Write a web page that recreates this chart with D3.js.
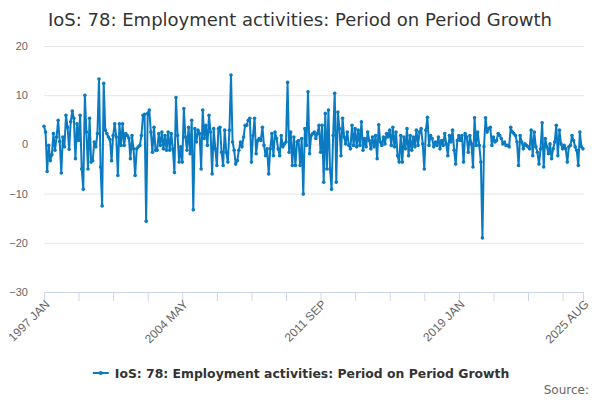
<!DOCTYPE html>
<html>
<head>
<meta charset="utf-8">
<script src="https://cdn.jsdelivr.net/npm/d3@7"></script>
<style>
  body { margin: 0; background: #fff; }
  svg { font-family: "DejaVu Sans", Verdana, sans-serif; }
</style>
</head>
<body>
<svg width="600" height="400"></svg>
<script>
// monthly growth in chunks (1997 JAN .. 2025 AUG)
const growth1997 = [3.7, 2.5, -5.5, -0.2, -3.3, -2.1, 2.2, -1.2, 1.5, 4.9, 0.6, -5.8, 1.5, -0.5, 5.9, 3.5, -1.0, 4.6, 6.8, 5.3, -2.9, 4.2, 0.8, 5.9, -5.0, -9.1, 10.0, 2.5, -5.0, 5.3, -3.6, -3.3, 0.5, -0.5, 2.2, 13.3, -4.6, -12.5, 12.4, 2.9, 2.2, 1.5];
const growth2000 = [1.0, -3.3, 1.8, 4.2, 1.5, -6.3, 4.2, -0.2, 4.2, -0.2, 2.2, 1.8, 1.3, -2.9, 1.8, -0.9, -6.3, -0.9, -0.5, -0.2, 1.8, 5.9, 6.1, -15.6, 6.3, 7.0, 2.5, -1.6, 3.5, -1.2, -1.2, 2.2, -0.2, 2.5, -0.9, 1.8, -1.2, 2.5, -1.2, 2.2, -0.9, -5.7, 9.5];
const growth2004 = [1.8, -3.6, -0.5, -3.6, 7.3, 1.5, -1.2, 3.5, -1.9, 4.9, -13.3, 3.2, 0.5, 2.9, 2.2, -5.0, 7.0, 1.2, 3.9, -0.2, 5.9, 2.5, -6.0, 3.2, -0.9, -4.3, 3.2, 3.5, -1.6, -4.3, 2.9, -1.6, -3.6, 2.9, 14.1, 0.5, -1.2, -4.0, -3.3, -1.2, 0.5, -0.5, 1.5, 3.9];
const growth2007 = [3.9, 4.9, 5.3, -3.6, 1.8, 5.3, -1.9, 0.8, 1.2, 0.8, 3.5, -0.2, -2.3, -0.9, -6.0, -0.9, 2.2, -2.3, 2.5, 1.2, -0.9, -2.3, 1.8, -0.5, 0.1, 0.5, 12.6, -1.6, 2.5, -4.3, 1.5, -4.3, 0.5, 0.8, -4.3, 1.2, -10.1, 3.2, -0.2, 10.7, -1.9, 1.8, 2.2, 2.5, 1.2, 2.2];
const growth2011 = [3.9, -1.6, 3.9, -7.7, 6.3, -5.0, 7.0, -5.0, -9.1, 1.8, 10.4, -7.7, 6.6, 3.2, -2.3, 5.3, 1.5, 0.1, 2.5, -0.2, -0.9, 3.9, -0.2, 3.2, -0.5, 2.9, -0.2, 4.6, -1.2, 1.2, -0.5, 2.5, 0.8, -0.9, 1.5, -0.5, 1.8, -2.9, 4.0, 0.5, -0.2, 1.5, 0.1, 2.2, 1.5];
const growth2015 = [2.9, -0.2, 3.5, -0.5, 2.5, -2.3, -3.6, 1.8, -3.6, 1.5, -0.9, 3.2, -2.3, 1.8, -1.2, 1.5, -0.5, 2.9, -0.2, 2.5, 3.2, 0.1, -5.0, 2.9, 5.5, -0.2, 1.8, 1.2, -0.5, 0.5, -0.2, 1.5, -0.9, 0.8, -0.2, 2.2, 0.1, -2.3, 1.8, 0.5, 2.9, -1.2, -4.0, 0.8];
const growth2019 = [1.8, 0.8, 1.8, -3.6, 2.2, 1.5, -1.6, 1.8, 0.1, -4.6, 5.4, -0.2, 2.5, -0.2, -3.6, -19.0, -0.5, 5.4, 2.5, 3.2, 3.5, -0.2, 1.5, 0.5, 0.8, 2.2, 1.8, 1.2, 0.1, 0.5, -0.2, -0.2, -0.5, 3.5, 2.5, 2.2, 1.8, 0.5, -4.3, 1.8, 0.5, -0.9, 0.1, -0.2];
const growth2022 = [-0.5, -0.9, 2.9, -2.3, 2.5, -0.5, -1.6, -4.0, -0.9, 4.4, -4.6, 1.2, -0.5, -1.9, 0.1, -2.9, -0.9, 0.5, 3.9, -2.3, 2.9, 0.1, -0.9, -0.2, -0.9, -3.6, -0.5, -0.2, 1.8, 0.8, -0.5, -1.2, -4.3, 2.5, -0.5, -0.9];

const values = [].concat(growth1997, growth2000, growth2004, growth2007,
                         growth2011, growth2015, growth2019, growth2022);

const monthNames = ["JAN", "FEB", "MAR", "APR", "MAY", "JUN", "JUL", "AUG", "SEP", "OCT", "NOV", "DEC"];
const categories = values.map((v, i) => (1997 + Math.floor(i / 12)) + " " + monthNames[i % 12]);

const yTicks = [20, 10, 0, -10, -20, -30];
const tickLabels = ["1997 JAN", "2004 MAY", "2011 SEP", "2019 JAN", "2025 AUG"];
const seriesName = "IoS: 78: Employment activities: Period on Period Growth";
const lineColor = "#0b7bc1";

const svg = d3.select("svg");

const x = d3.scaleLinear().domain([0, values.length - 1]).range([44, 583]);
const y = d3.scaleLinear().domain([-30, 20]).range([292, 46]);

// title
svg.append("text")
  .attr("x", 300).attr("y", 26)
  .attr("text-anchor", "middle")
  .attr("fill", "#333")
  .style("font-size", "18px")
  .text(seriesName);

// y axis + gridlines
const yAxis = svg.append("g")
  .attr("transform", "translate(44,0)")
  .call(d3.axisLeft(y).tickValues(yTicks).tickSize(-540).tickPadding(16));
yAxis.select(".domain").remove();
yAxis.selectAll("line").attr("stroke", "#e6e6e6");
yAxis.selectAll("text").attr("fill", "#666").style("font-size", "11px");

// x axis: tick every 22 months plus the last one
const tickIdx = d3.range(0, values.length, 22).concat([values.length - 1]);
const xAxis = svg.append("g")
  .attr("transform", "translate(0,292)")
  .call(d3.axisBottom(x).tickValues(tickIdx).tickSize(9).tickFormat(i => {
    const c = categories[i];
    return tickLabels.includes(c) ? c : "";
  }));
xAxis.select(".domain").attr("stroke", "#ccd6eb");
xAxis.selectAll("line").attr("stroke", "#ccd6eb");
xAxis.selectAll("text")
  .attr("fill", "#666")
  .style("font-size", "12px")
  .attr("text-anchor", "end")
  .attr("dy", null)
  .attr("y", null)
  .attr("transform", "translate(6,13) rotate(-45)");

// line + markers
const line = d3.line().x((d, i) => x(i)).y(d => y(d));
svg.append("path")
  .datum(values)
  .attr("d", line)
  .attr("fill", "none")
  .attr("stroke", lineColor)
  .attr("stroke-width", 2)
  .attr("stroke-linejoin", "round");

svg.append("g").selectAll("circle")
  .data(values)
  .enter().append("circle")
  .attr("cx", (d, i) => x(i))
  .attr("cy", d => y(d))
  .attr("r", 1.8)
  .attr("fill", lineColor);

// legend
const legend = svg.append("g").attr("transform", "translate(301,373)");
const legendText = legend.append("text")
  .attr("x", 8).attr("y", 4.5)
  .attr("fill", "#333")
  .style("font-size", "12.4px")
  .style("font-weight", "bold")
  .text(seriesName);
const tw = legendText.node().getComputedTextLength();
const lx = -(tw + 22) / 2;
legendText.attr("x", lx + 22);
legend.append("line")
  .attr("x1", lx).attr("x2", lx + 16)
  .attr("stroke", lineColor).attr("stroke-width", 2);
legend.append("circle")
  .attr("cx", lx + 8).attr("r", 2).attr("fill", lineColor);

// credits
svg.append("text")
  .attr("x", 589).attr("y", 394)
  .attr("text-anchor", "end")
  .attr("fill", "#666")
  .style("font-size", "12px")
  .text("Source:");
</script>
</body>
</html>
